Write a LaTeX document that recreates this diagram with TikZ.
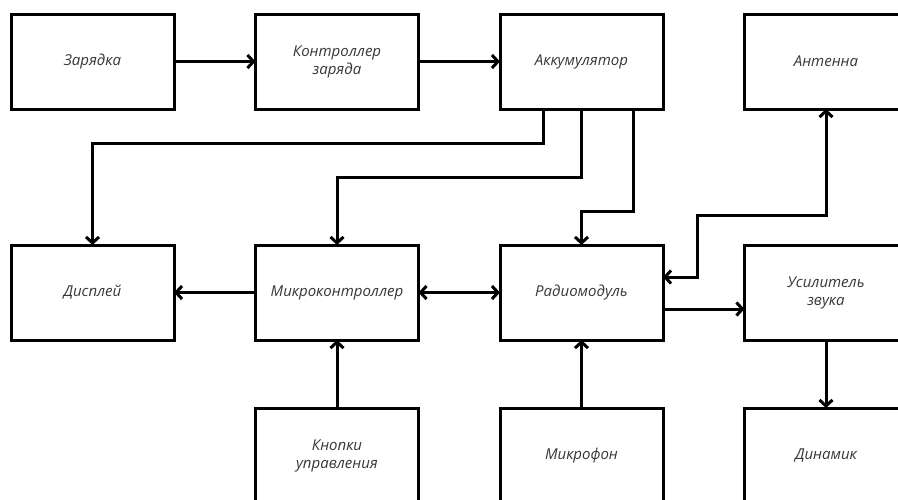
\documentclass[tikz,border=0pt]{standalone}
\usepackage{fontspec}
\setmainfont{Open Sans}
\usepackage{xcolor}
\definecolor{dgray}{RGB}{55,55,55}
\usetikzlibrary{positioning, arrows.meta}
\tikzstyle{Block} = [
draw,
line width=3pt,
minimum width=163pt,
minimum height=95pt,
outer sep=0pt,
align=center,
font=\itshape\fontsize{15}{18}\selectfont,
text=dgray]
\tikzstyle{Arrow} = [
line width=3pt,
-{Straight Barb[length=6pt, width=13pt]}]
\tikzstyle{TwoArrow} = [
line width=3pt,
{Straight Barb[length=6pt, width=13pt]}-{Straight Barb[length=6pt, width=13pt]}]

\begin{document}
\begin{tikzpicture}
    \useasboundingbox (0,0) rectangle (898pt,-499pt);
    \clip (0,0) rectangle (898pt,-499pt);
    \node [Block] (1) at (92.5pt,-61.5pt) {Зарядка};
    \node [Block, right=81.5pt of 1] (2) {Контроллер\\заряда};
    \node [Block, right=81.5pt of 2] (3) {Аккумулятор};
    \node [Block, right=81.5pt of 3] (4) {Антенна};
    \node [Block, below=136pt of 1] (5) {Дисплей};
    \node [Block, right=81.5pt of 5] (6) {Микроконтроллер};
    \node [Block, right=81.5pt of 6] (7) {Радиомодуль};
    \node [Block, right=81.5pt of 7] (8) {Усилитель\\звука};
    \node [Block, below=68pt of 6] (9) {Кнопки\\управления};
    \node [Block, below=68pt of 7] (10) {Микрофон};
    \node [Block, below=68pt of 8] (11) {Динамик};

    \draw[Arrow] (1) -- (2);
    \draw[Arrow] (2) -- (3);
    \draw[Arrow] ([xshift=-38.5pt]3.south) -- ++(0,-34pt) -| (5.north);
    \draw[Arrow] (3.south) -- ++(0,-68pt) -| (6.north);
    \draw[Arrow] ([xshift=51.5pt]3.south) -- ++(0,-102pt) -| (7.north);
    \draw[TwoArrow] ([yshift=15.5pt]7.east) -- ++(34pt,0) -- ++(0,62pt) -| (4.south);
    \draw[Arrow] (6) -- (5);
    \draw[TwoArrow] (6) -- (7);
    \draw[Arrow] ([yshift=-16.5pt]7.east) -- ([yshift=-16.5pt]8.west);
    \draw[Arrow] (8) -- (11);
    \draw[Arrow] (9) -- (6);
    \draw[Arrow] (10) -- (7);
\end{tikzpicture}
\end{document}
